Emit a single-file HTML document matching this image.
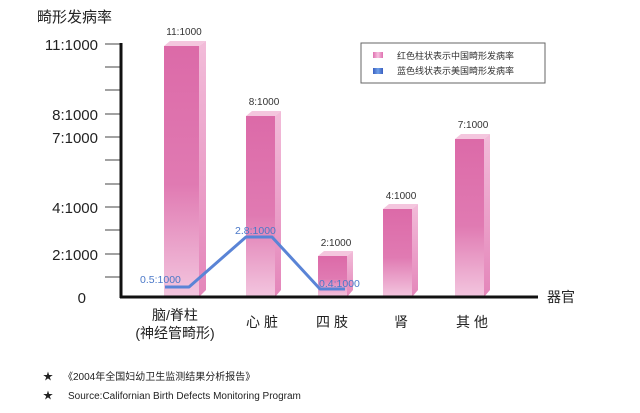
<!DOCTYPE html>
<html><head><meta charset="utf-8"><style>
html,body{margin:0;padding:0;background:#fff;}
svg{display:block;font-family:"Liberation Sans","Noto Sans CJK SC",sans-serif;}
</style></head><body>
<svg width="640" height="413" viewBox="0 0 640 413">
<defs>
<linearGradient id="bf" x1="0" y1="0" x2="0" y2="1">
<stop offset="0" stop-color="#dc6aa8"/><stop offset="0.55" stop-color="#e07ab2"/><stop offset="1" stop-color="#f3c6df"/>
</linearGradient>
<linearGradient id="bs" x1="0" y1="0" x2="0" y2="1">
<stop offset="0" stop-color="#f2bcd9"/><stop offset="1" stop-color="#e486ba"/>
</linearGradient>
<linearGradient id="lg1" x1="0" y1="0" x2="1" y2="0"><stop offset="0" stop-color="#e070b0"/><stop offset="0.5" stop-color="#f5c0de"/><stop offset="1" stop-color="#e070b0"/></linearGradient>
<linearGradient id="lg2" x1="0" y1="0" x2="1" y2="0"><stop offset="0" stop-color="#3a5fc0"/><stop offset="0.5" stop-color="#6fa0e8"/><stop offset="1" stop-color="#3a5fc0"/></linearGradient>
</defs>
<text x="37" y="22" font-size="15" fill="#222">畸形发病率</text>
<g font-size="15" fill="#222" text-anchor="end">
<text x="98" y="50">11:1000</text>
<text x="98" y="120">8:1000</text>
<text x="98" y="143">7:1000</text>
<text x="98" y="213">4:1000</text>
<text x="98" y="260">2:1000</text>
<text x="86" y="303">0</text>
</g>
<g stroke="#444" stroke-width="1">
<line x1="105" y1="44" x2="121" y2="44"/><line x1="105" y1="67" x2="121" y2="67"/><line x1="105" y1="90" x2="121" y2="90"/><line x1="105" y1="114" x2="121" y2="114"/><line x1="105" y1="137" x2="121" y2="137"/><line x1="105" y1="160" x2="121" y2="160"/><line x1="105" y1="184" x2="121" y2="184"/><line x1="105" y1="207" x2="121" y2="207"/><line x1="105" y1="230" x2="121" y2="230"/><line x1="105" y1="254" x2="121" y2="254"/><line x1="105" y1="277" x2="121" y2="277"/>
</g>
<!-- bars -->
<g>
<polygon points="164,46 170,41 206,41 199,46" fill="#f4c6de"/>
<rect x="164" y="46" width="35" height="251" fill="url(#bf)"/>
<polygon points="199,46 206,41 206,290 199,297" fill="url(#bs)"/>
<polygon points="246,116 252,111 281,111 275,116" fill="#f4c6de"/>
<rect x="246" y="116" width="29" height="181" fill="url(#bf)"/>
<polygon points="275,116 281,111 281,290 275,297" fill="url(#bs)"/>
<polygon points="318,256 324,251 353,251 347,256" fill="#f4c6de"/>
<rect x="318" y="256" width="29" height="41" fill="url(#bf)"/>
<polygon points="347,256 353,251 353,290 347,297" fill="url(#bs)"/>
<polygon points="383,209 389,204 418,204 412,209" fill="#f4c6de"/>
<rect x="383" y="209" width="29" height="88" fill="url(#bf)"/>
<polygon points="412,209 418,204 418,290 412,297" fill="url(#bs)"/>
<polygon points="455,139 461,134 490,134 484,139" fill="#f4c6de"/>
<rect x="455" y="139" width="29" height="158" fill="url(#bf)"/>
<polygon points="484,139 490,134 490,290 484,297" fill="url(#bs)"/>
</g>
<g font-size="10" fill="#333" text-anchor="middle">
<text x="184" y="35">11:1000</text>
<text x="264" y="105">8:1000</text>
<text x="336" y="246">2:1000</text>
<text x="401" y="199">4:1000</text>
<text x="473" y="128">7:1000</text>
</g>
<polyline points="165,287 189,287 246,237 272,237 320,289 345,289" fill="none" stroke="#5a84d6" stroke-width="3" stroke-linejoin="round"/>
<g font-size="10.5" fill="#4a78c8">
<text x="140" y="283">0.5:1000</text>
<text x="235" y="234">2.8:1000</text>
<text x="319" y="287">0.4:1000</text>
</g>
<line x1="121" y1="43" x2="121" y2="298" stroke="#111" stroke-width="3"/>
<line x1="120" y1="297" x2="538" y2="297" stroke="#111" stroke-width="3"/>
<text x="547" y="302" font-size="14" fill="#222">器官</text>
<g font-size="14" fill="#222" text-anchor="middle">
<text x="175" y="320">脑/脊柱</text>
<text x="175" y="338">(神经管畸形)</text>
<text x="264" y="327" letter-spacing="4">心脏</text>
<text x="334" y="327" letter-spacing="4">四肢</text>
<text x="401" y="327">肾</text>
<text x="474" y="327" letter-spacing="4">其他</text>
</g>
<rect x="361" y="43" width="184" height="40" fill="#fff" stroke="#666" stroke-width="1"/>
<rect x="373" y="52" width="10" height="6" fill="url(#lg1)"/>
<rect x="373" y="68" width="10" height="6" fill="url(#lg2)"/>
<g font-size="9" fill="#333">
<text x="397" y="59">红色柱状表示中国畸形发病率</text>
<text x="397" y="74">蓝色线状表示美国畸形发病率</text>
</g>
<g font-size="10" fill="#222">
<text x="43" y="380">★</text>
<text x="63" y="380">《2004年全国妇幼卫生监测结果分析报告》</text>
<text x="43" y="399">★</text>
<text x="68" y="399">Source:Californian Birth Defects Monitoring Program</text>
</g>
</svg>
</body></html>
